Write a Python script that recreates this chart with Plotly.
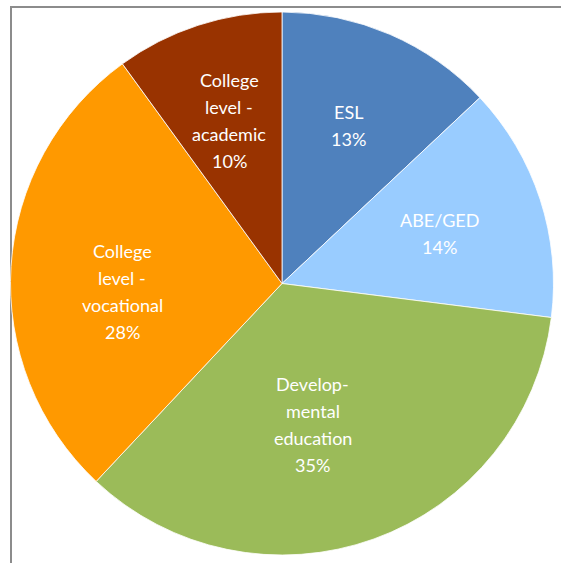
import math
import plotly.graph_objects as go

categories = ["ESL", "ABE/GED", "Developmental education", "College level - vocational", "College level - academic"]
label_lines = [
    ["ESL"],
    ["ABE/GED"],
    ["Develop-", "mental", "education"],
    ["College", "level -", "vocational"],
    ["College", "level -", "academic"],
]
shares = [13, 14, 35, 28, 10]
colors = ["#4F81BD", "#99CCFF", "#9BBB59", "#FF9900", "#993300"]

W, H = 561, 563
CX, CY, R = 282, 283.5, 271.5          # pie centre and radius in pixels
LINE_H = 27                            # label line spacing in pixels
# label placement: fraction of radius and angular nudge (degrees, clockwise)
label_r = [0.63, 0.61, 0.53, 0.59, 0.63]
label_da = [-0.5, 0.5, 7.5, -6.5, 0.0]

fig = go.Figure(go.Pie(
    labels=categories,
    values=shares,
    sort=False,
    direction="clockwise",
    rotation=0,
    marker=dict(colors=colors, line=dict(color="white", width=0.8)),
    textinfo="none",
    hoverinfo="label+percent",
    showlegend=False,
    domain=dict(x=[(CX - R) / W, (CX + R) / W], y=[1 - (CY + R) / H, 1 - (CY - R) / H]),
))

total = sum(shares)
start = 0.0
for lines, v, rf, da in zip(label_lines, shares, label_r, label_da):
    span = 360.0 * v / total
    mid = math.radians(start + span / 2 + da)
    start += span
    px = CX + rf * R * math.sin(mid)
    py = CY - rf * R * math.cos(mid)
    text_lines = lines + [f"{v}%"]
    n = len(text_lines)
    for i, t in enumerate(text_lines):
        ly = py + (i - (n - 1) / 2) * LINE_H
        fig.add_annotation(
            x=px / W, y=1 - ly / H, xref="paper", yref="paper",
            text=t, showarrow=False, xanchor="center", yanchor="middle",
            font=dict(family="Lato, Open Sans, sans-serif", size=18, color="white"),
        )

# chart area frame (extends past the right and bottom edges)
fig.add_shape(type="rect", xref="paper", yref="paper",
              x0=11 / W, x1=1.05, y0=-0.05, y1=1 - 7 / H,
              line=dict(color="#8C8C8C", width=2), layer="below")

fig.update_layout(
    width=W, height=H,
    margin=dict(l=0, r=0, t=0, b=0),
    paper_bgcolor="white",
    plot_bgcolor="white",
)

fig.write_html("out.html")
